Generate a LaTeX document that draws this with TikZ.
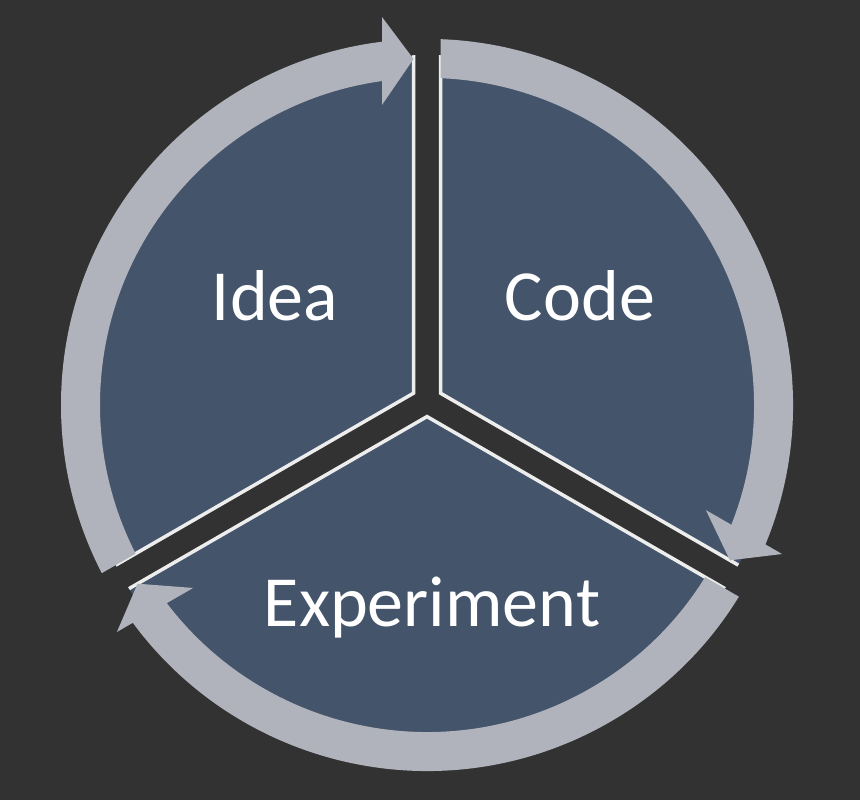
\documentclass[tikz,border=0pt]{standalone}
\usepackage{fontspec}
\setmainfont{Carlito}
\usetikzlibrary{calc}
\definecolor{bgdark}{HTML}{323232}
\definecolor{slate}{HTML}{44546A}
\definecolor{ringgray}{HTML}{B0B3BB}
\definecolor{edgewhite}{HTML}{EDEDED}
\begin{document}
\begin{tikzpicture}[x=1pt,y=1pt,
  cycletext/.style={text=white, font=\fontsize{72}{80}\selectfont, anchor=base, inner sep=0pt},
  sectoredge/.style={draw=edgewhite, line width=3.5pt, line join=miter},
  ringband/.style={fill=ringgray, even odd rule},
  arrowtip/.style={fill=ringgray},
]
\fill[bgdark] (0,0) rectangle (860,800);
\useasboundingbox (0,0) rectangle (860,800);

% ring centre and hub of the three gaps
\coordinate (O) at (427,395);
\coordinate (C) at (427,399);
% inner corners of the three segments (gap half-width 13.5)
\coordinate (KI) at ($(C)+(150:15.59)$);
\coordinate (KC) at ($(C)+(30:15.59)$);
\coordinate (KE) at ($(C)+(270:15.59)$);

% segment wedges, used for filling and for trimming the ring
\tikzset{
  wedgeI/.style={insert path={(KI) -- ++(90:800) -- ++(210:800) -- ++(270:800) -- cycle}},
  wedgeC/.style={insert path={(KC) -- ++(90:800) -- ++(330:800) -- ++(270:800) -- cycle}},
  wedgeE/.style={insert path={(KE) -- ++(210:800) -- ++(330:800) -- ++(30:800) -- cycle}},
}

% the three segments
\begin{scope}
  \clip (O) circle (350);
  \fill[slate, wedgeI];
  \fill[slate, wedgeC];
  \fill[slate, wedgeE];
  \draw[sectoredge] ($(KI)+(90:800)$) -- (KI) -- ($(KI)+(210:800)$);
  \draw[sectoredge] ($(KC)+(90:800)$) -- (KC) -- ($(KC)+(330:800)$);
  \draw[sectoredge] ($(KE)+(210:800)$) -- (KE) -- ($(KE)+(330:800)$);
\end{scope}

% arrow bands
\begin{scope}
  \clip[wedgeI];
  \clip (384,-100) -- (384,900) -- (-100,900) -- (-100,-100) -- cycle;
  \fill[ringband] (O) circle (366) (O) circle (327);
\end{scope}
\begin{scope}
  \clip[wedgeC];
  \begin{scope}[rotate around={-120:(C)}]
    \clip (384,-100) -- (384,900) -- (-100,900) -- (-100,-100) -- cycle;
    \fill[ringband] (O) circle (366) (O) circle (327);
  \end{scope}
\end{scope}
\begin{scope}
  \clip[wedgeE];
  \begin{scope}[rotate around={120:(C)}]
    \clip (384,-100) -- (384,900) -- (-100,900) -- (-100,-100) -- cycle;
    \fill[ringband] (O) circle (366) (O) circle (327);
  \end{scope}
\end{scope}

% arrow heads
\fill[arrowtip] (382,783) -- (413.5,741) -- (382,695) -- cycle;
\fill[arrowtip, rotate around={-120:(C)}] (382,783) -- (413.5,741) -- (382,695) -- cycle;
\fill[arrowtip, rotate around={120:(C)}] (382,783) -- (413.5,741) -- (382,695) -- cycle;

% labels
\node[cycletext] (idea) at (275,479) {Idea};
\node[cycletext] (code) at (580,479) {Code};
\node[cycletext] (experiment) at (432,173) {Experiment};
\end{tikzpicture}
\end{document}
